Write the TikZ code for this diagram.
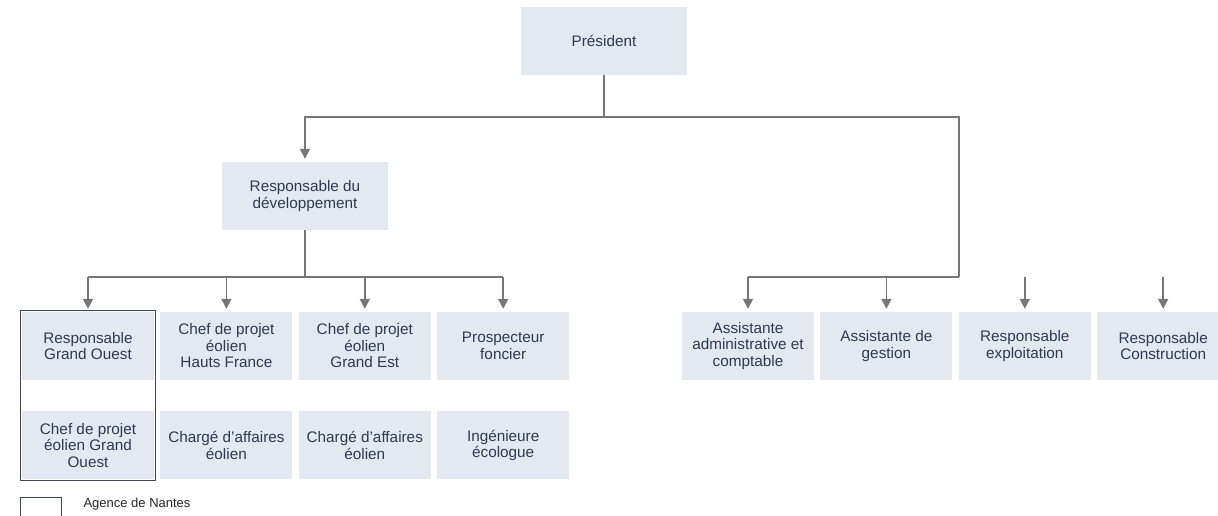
\documentclass[tikz,border=0pt]{standalone}
\usepackage{fontspec}
\setmainfont{Liberation Sans}
\usetikzlibrary{arrows.meta, positioning}
\definecolor{boxfill}{RGB}{228, 232, 241}
\definecolor{boxtext}{RGB}{45, 58, 82}
\definecolor{linegray}{RGB}{118, 118, 118}
\definecolor{outline}{RGB}{63, 71, 87}

\begin{document}
\begin{tikzpicture}[
    x=1pt, y=-1pt,
    >={Triangle[width=10pt,length=10pt]},
    node distance=6pt,
    post/.style={rectangle, fill=boxfill, text=boxtext, minimum width=132pt, minimum height=68pt, inner sep=0pt, align=center, font=\fontsize{15.3}{16.5}\selectfont},
    head/.style={post, minimum width=166pt},
    link/.style={draw=linegray, line width=1.6pt},
    arrow/.style={link, ->, shorten >=3pt}
]
\useasboundingbox (0,0) rectangle (1218,515);

\node [head] (pres) at (604,41) {Président};
\node [head] (dev) at (305,196) {Responsable du\\développement};

\node [post] (gouest) at (88,346) {Responsable\\Grand Ouest};
\node [post, right=of gouest] (hauts) {Chef de projet\\éolien\\Hauts France};
\node [post, right=of hauts] (est) {Chef de projet\\éolien\\Grand Est};
\node [post, right=of est] (foncier) {Prospecteur\\foncier};

\node [post, below=31pt of gouest] (cpgouest) {Chef de projet\\éolien Grand\\Ouest};
\node [post, right=of cpgouest] (chhauts) {Chargé d’affaires\\éolien};
\node [post, right=of chhauts] (chest) {Chargé d’affaires\\éolien};
\node [post, right=of chest] (ingenieur) {Ingénieure\\écologue};

\node [post] (assist) at (748,346) {Assistante\\administrative et\\comptable};
\node [post, right=of assist] (gestion) {Assistante de\\gestion};
\node [post, right=of gestion] (exploit) {Responsable\\exploitation};
\node [post, right=of exploit] (constr) {Responsable\\Construction};

\coordinate (rbar) at (959,277);
\draw [link] (pres.south) -- ++(0,42) coordinate (topbar);
\draw [arrow] (topbar) -| (dev.north);
\draw [link] (topbar) -| (rbar);
\draw [link] (rbar) -- (rbar -| assist.north);
\foreach \n in {assist,gestion,exploit,constr}
    \draw [arrow] (\n.north |- rbar) -- (\n.north);

\draw [link] (dev.south) -- ++(0,47) coordinate (lbar);
\draw [link] (lbar -| gouest.north) -- (lbar -| foncier.north);
\foreach \n in {gouest,hauts,est,foncier}
    \draw [arrow] (\n.north |- lbar) -- (\n.north);

\draw [outline, line width=1.2pt] ([shift={(-1,-1)}]gouest.north west) rectangle ([shift={(1,1)}]cpgouest.south east);

\node [draw=outline, line width=0.8pt, minimum width=41pt, minimum height=22pt, inner sep=0pt] (legbox) at (40.5,508) {};
\node [anchor=west, text=black!85, font=\fontsize{13}{15}\selectfont] (legtext) at (80,504) {Agence de Nantes};
\end{tikzpicture}
\end{document}
